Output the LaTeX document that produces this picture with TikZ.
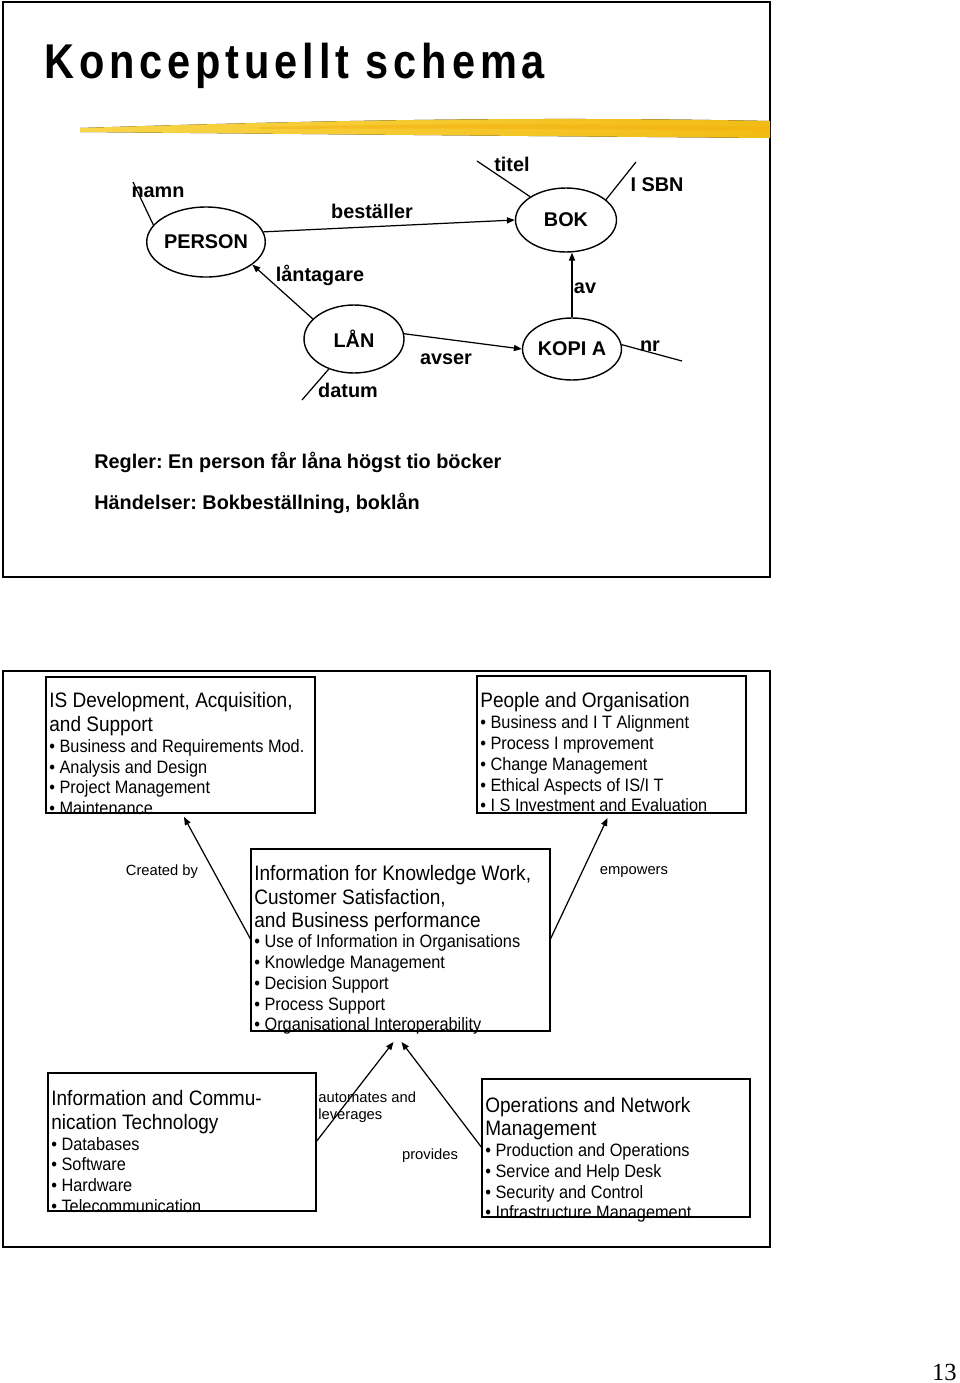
\documentclass[tikz,border=0pt]{standalone}
\usepackage{fontspec}
\setmainfont{Liberation Sans}
\newfontfamily\narrowfont[FakeStretch=0.91]{Liberation Sans}
\newfontfamily\titlefont[FakeStretch=0.85,LetterSpace=10]{Liberation Sans}
\newfontfamily\pagefont{Liberation Serif}
\usepackage{xcolor}
\usepackage{tikz}
\usetikzlibrary{arrows.meta}
\usetikzlibrary{shapes.geometric}
\definecolor{brushlight}{HTML}{F8D548}
\definecolor{brushdeep}{HTML}{F2BC14}
\tikzstyle{entity} = [draw, ellipse, line width=0.8pt, inner sep=0pt, font=\bfseries\fontsize{11.3pt}{13pt}\selectfont]
\tikzstyle{erlabel} = [inner sep=0pt, font=\bfseries\fontsize{11.3pt}{13pt}\selectfont]
\tikzstyle{arrow} = [line width=0.7pt, -{Triangle[length=4.5pt,width=3.5pt]}]
\tikzstyle{attrline} = [line width=0.7pt]
\tikzstyle{area} = [draw, line width=0.9pt, inner sep=0pt, outer sep=0pt]
\tikzstyle{areatext} = [anchor=north west, align=left, inner sep=0pt, font={\narrowfont\fontsize{10.2pt}{11.8pt}\selectfont\lineskiplimit-20pt}]
\tikzstyle{small} = [inner sep=0pt, font={\fontsize{8.4pt}{10.2pt}\selectfont\lineskiplimit-20pt}]
\newcommand{\head}[1]{{\fontsize{11.9pt}{11.8pt}\selectfont #1}}

\begin{document}
\frenchspacing
\begin{tikzpicture}[x=0.02cm, y=-0.02cm]
    \useasboundingbox (0,0) rectangle (960,1383);

    % upper slide
    \draw[line width=1.1pt] (3,2) rectangle (770,577);
    \node[anchor=base west, inner sep=0pt, font=\titlefont\bfseries\fontsize{27.8pt}{30pt}\selectfont] (title) at (44,78) {Konceptuellt schema};
    \fill[left color=brushlight, right color=brushdeep] (80,128) .. controls (300,121) and (520,116) .. (770,121) -- (770,138) .. controls (520,136) and (300,134) .. (80,132) -- cycle;
    \fill[brushdeep!80!orange, opacity=0.5] (260,127) .. controls (450,123) and (600,124) .. (770,127) -- (770,131) .. controls (600,129) and (450,128) .. (260,129) -- cycle;

    \node[entity, minimum width=2.06cm, minimum height=1.4cm] (person) at (206,242) {PERSON};
    \node[entity, minimum width=2.02cm, minimum height=1.28cm] (bok) at (566,220) {BOK};
    \node[entity, minimum width=2cm, minimum height=1.36cm] (lan) at (354,339) {LÅN};
    \node[entity, minimum width=1.98cm, minimum height=1.24cm] (kopia) at (572,349) {KOPI A};

    \coordinate (namnend) at (133,182);
    \coordinate (titelend) at (477,161);
    \coordinate (isbnend) at (636,162);
    \coordinate (nrend) at (682,361);
    \coordinate (datumend) at (302,400);

    \draw[attrline] (namnend) -- (person.162);
    \draw[attrline] (titelend) -- (bok.147);
    \draw[attrline] (isbnend) -- (bok.27);
    \draw[attrline] (kopia.5) -- (nrend);
    \draw[attrline] (lan.-130) -- (datumend);

    \draw[arrow] (person.10) -- (bok.west);
    \draw[arrow] (lan.154) -- (person.-26);
    \draw[arrow] (kopia.north) -- (kopia.north |- bok.south);
    \draw[arrow] (lan.6) -- (kopia.west);

    \node[erlabel] (namn) at (158,192) {namn};
    \node[erlabel] (bestaller) at (372,211) {beställer};
    \node[erlabel] (lantagare) at (320,275) {låntagare};
    \node[erlabel] (titel) at (512,164) {titel};
    \node[erlabel] (isbn) at (657,185) {I SBN};
    \node[erlabel] (av) at (585,288) {av};
    \node[erlabel] (avser) at (446,359) {avser};
    \node[erlabel] (nr) at (650,346) {nr};
    \node[erlabel] (datum) at (348,390) {datum};

    \node[erlabel, anchor=base west] (regler) at (94,468) {Regler: En person får låna högst tio böcker};
    \node[erlabel, anchor=base west] (handelser) at (94,509) {Händelser: Bokbeställning, boklån};

    % lower slide
    \draw[line width=1.1pt] (3,671) rectangle (770,1247);

    \node[area, minimum width=5.38cm, minimum height=2.72cm] (isdev) at (180.5,745) {};
    \node[area, minimum width=5.38cm, minimum height=2.74cm] (people) at (611.5,744.5) {};
    \node[area, minimum width=5.98cm, minimum height=3.64cm] (infow) at (400.5,940) {};
    \node[area, minimum width=5.36cm, minimum height=2.76cm] (ict) at (182,1142) {};
    \node[area, minimum width=5.36cm, minimum height=2.76cm] (ops) at (616,1148) {};

    \node[areatext] (isdevtext) at (49,692) {\head{IS Development, Acquisition,}\\[1.8pt]\head{and Support}\\[0.2pt]• Business and Requirements Mod.\\• Analysis and Design\\• Project Management\\• Maintenance};
    \node[areatext] (peopletext) at (480,692) {\head{People and Organisation}\\[0.4pt]• Business and I T Alignment\\• Process I mprovement\\• Change Management\\• Ethical Aspects of IS/I T\\• I S Investment and Evaluation};
    \node[areatext] (infowtext) at (254,865) {\head{Information for Knowledge Work,}\\[1.8pt]\head{Customer Satisfaction,}\\[1.6pt]\head{and Business performance}\\[-0.4pt]• Use of Information in Organisations\\• Knowledge Management\\• Decision Support\\• Process Support\\• Organisational Interoperability};
    \node[areatext] (icttext) at (51,1090) {\head{Information and Commu-}\\[1.8pt]\head{nication Technology}\\[0pt]• Databases\\• Software\\• Hardware\\• Telecommunication};
    \node[areatext] (opstext) at (485,1097) {\head{Operations and Network}\\[1.4pt]\head{Management}\\[0.2pt]• Production and Operations\\• Service and Help Desk\\• Security and Control\\• Infrastructure Management};

    \draw[arrow] (infow.west) -- ([shift={(3.5,4)}]isdev.south);
    \draw[arrow] (infow.east) -- ([shift={(-4,5)}]people.south);
    \draw[arrow] (ict.east) -- ([shift={(-7,11)}]infow.south);
    \draw[arrow] (ops.west) -- ([shift={(1,11)}]infow.south);

    \node[small] (createdby) at (162,872) {Created by};
    \node[small] (empowers) at (634,872) {empowers};
    \node[small, anchor=north west, align=left] (automates) at (318,1091) {automates and\\leverages};
    \node[small] (provides) at (430,1156) {provides};

    \node[anchor=base east, inner sep=0pt, font=\pagefont\fontsize{14pt}{16pt}\selectfont] (pagenum) at (957,1380) {13};
\end{tikzpicture}
\end{document}
